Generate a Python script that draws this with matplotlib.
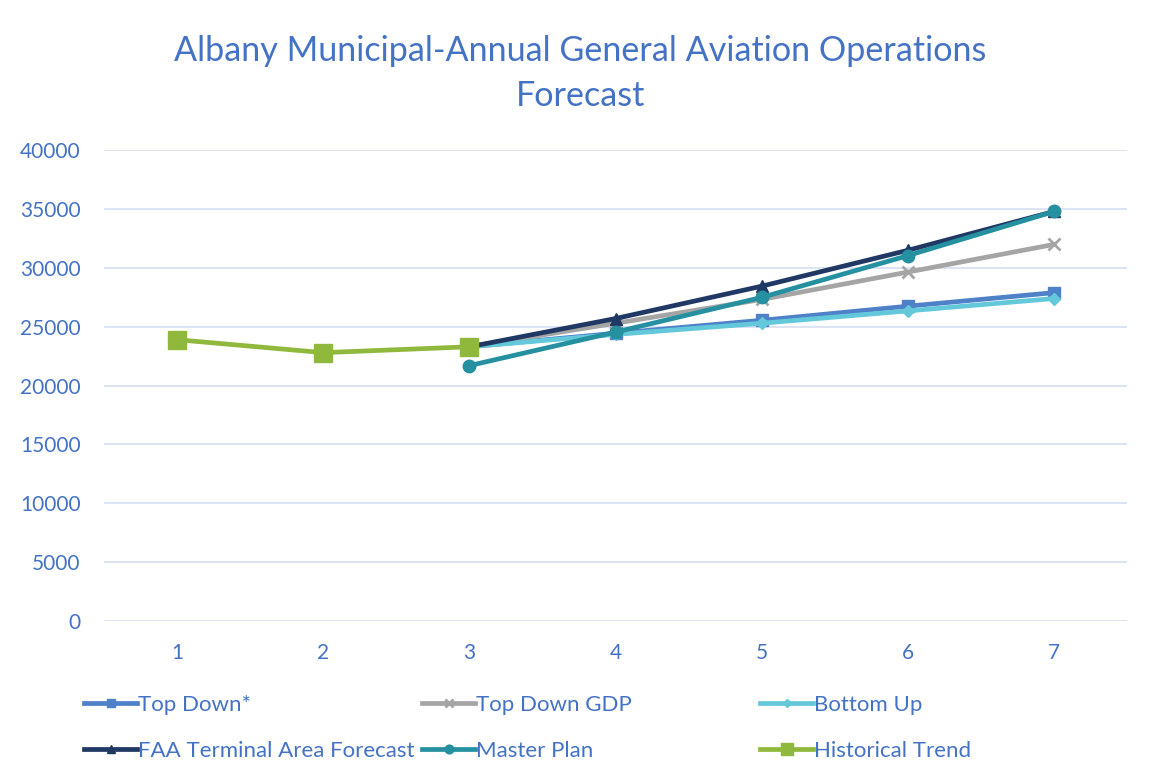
import matplotlib
matplotlib.use("Agg")
import matplotlib.pyplot as plt

plt.rcParams['font.family'] = ['Lato', 'DejaVu Sans']

years = [1, 2, 3, 4, 5, 6, 7]
fc_years = [3, 4, 5, 6, 7]

historical = [23900, 22800, 23300]
top_down = [23300, 24450, 25550, 26750, 27900]
top_down_gdp = [23300, 25300, 27320, 29650, 32000]
bottom_up = [23300, 24350, 25300, 26350, 27400]
faa_taf = [23300, 25700, 28450, 31500, 34800]
master_plan = [21700, 24550, 27500, 31050, 34800]

title = "Albany Municipal-Annual General Aviation Operations\nForecast"
blue_txt = '#4472C4'

fig = plt.figure(figsize=(11.51, 7.82), dpi=100)
ax = fig.add_axes([0.0904, 0.2059, 0.889, 0.602])

lw = 3.4
h1, = ax.plot(fc_years, top_down, color='#4F81C9', lw=lw, marker='s', ms=8, label='Top Down*')
h2, = ax.plot(fc_years, top_down_gdp, color='#A5A5A5', lw=lw, marker='x', ms=8, mew=2, label='Top Down GDP')
h3, = ax.plot(fc_years, bottom_up, color='#64C8DB', lw=lw, marker='D', ms=6, label='Bottom Up')
h4, = ax.plot(fc_years, faa_taf, color='#203864', lw=lw, marker='^', ms=8, label='FAA Terminal Area Forecast')
h5, = ax.plot(fc_years, master_plan, color='#2590A0', lw=lw, marker='o', ms=9, label='Master Plan')
h6, = ax.plot(years[:3], historical, color='#8FB83D', lw=lw, marker='s', ms=13, label='Historical Trend')

ax.set_xlim(0.5, 7.5)
ax.set_ylim(0, 40000)
ax.set_xticks(years)
ax.set_yticks(range(0, 40001, 5000))
ax.grid(axis='y', color='#D9E1F2', lw=1.3)
ax.set_axisbelow(True)
for s in ['top', 'right', 'left', 'bottom']:
    ax.spines[s].set_visible(False)
ax.tick_params(length=0, labelsize=15, labelcolor=blue_txt)
ax.tick_params(axis='y', pad=17)
ax.tick_params(axis='x', pad=16)

fig.text(0.504, 0.906, title, ha='center', va='center', fontsize=24.6,
         color=blue_txt, linespacing=1.5)

# three legend columns at fixed positions, like the spreadsheet layout
cols = [(h1, h4), (h2, h5), (h3, h6)]
col_x = [84, 422, 760]
for hs, x in zip(cols, col_x):
    leg = fig.legend(handles=list(hs), labels=[h.get_label() for h in hs],
                     loc='upper left', bbox_to_anchor=(x / 1151, (782 - 695) / 782),
                     frameon=False, fontsize=16, handlelength=2.4,
                     handletextpad=0.05, markerscale=0.7, labelspacing=1.15,
                     borderaxespad=0, borderpad=0)
    for t in leg.get_texts():
        t.set_color(blue_txt)

fig.savefig('out.png', dpi=100)
